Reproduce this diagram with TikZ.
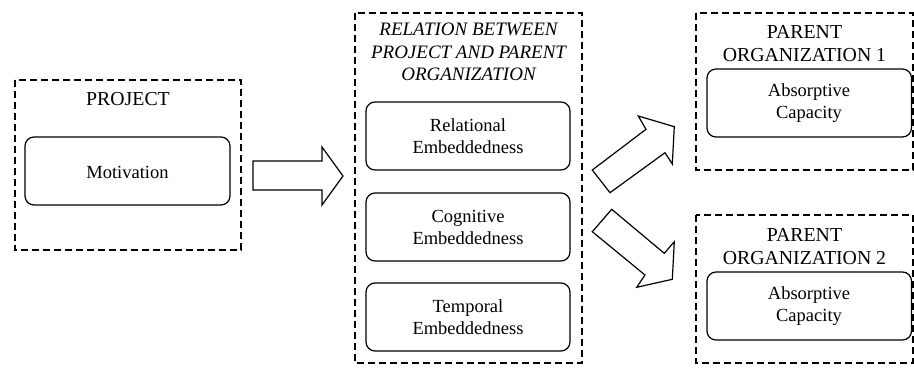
\documentclass[tikz,border=0pt]{standalone}
\usepackage{fontspec}
\setmainfont{Liberation Serif}
\usetikzlibrary{positioning}
\begin{document}
\begin{tikzpicture}[x=1pt,y=-1pt,
  group/.style={draw, dash pattern=on 7pt off 4pt, line width=1.5pt},
  item/.style={draw, rounded corners=9pt, line width=1.2pt},
  head/.style={font=\fontsize{19.8}{22.5}\selectfont, align=center, inner sep=0pt},
  itemtext/.style={font=\fontsize{18.5}{22}\selectfont, align=center, inner sep=0pt},
  blockarrow/.style={draw, line width=1.2pt, fill=white, line join=miter}]
\useasboundingbox (0,0) rectangle (914,376);

% Project
\draw[group] (15,80) rectangle (241,250);
\node[head] (projT) at (128,99) {PROJECT};
\draw[item] (25,137) rectangle (230,205);
\node[itemtext] (mot) at (127.5,172) {Motivation};

% Relation
\draw[group] (355,13) rectangle (582,363);
\node[head, font=\fontsize{19}{22.5}\selectfont\itshape] (relT) at (468.5,52) {RELATION BETWEEN\\PROJECT AND PARENT\\ORGANIZATION};
\draw[item] (366,102) rectangle (570,170);
\node[itemtext] (rel) at (468,136) {Relational\\Embeddedness};
\draw[item] (366,193) rectangle (570,261);
\node[itemtext] (cog) at (468,227) {Cognitive\\Embeddedness};
\draw[item] (366,283) rectangle (570,351);
\node[itemtext] (tem) at (468,317) {Temporal\\Embeddedness};

% Parent 1
\draw[group] (696,13) rectangle (913,170);
\node[head] (p1T) at (804.5,43.5) {PARENT\\ORGANIZATION 1};
\draw[item] (707,69) rectangle (911.5,137);
\node[itemtext] (ac1) at (809,103) {Absorptive\\Capacity};

% Parent 2
\draw[group] (696,215) rectangle (913,363);
\node[head] (p2T) at (804.5,246.5) {PARENT\\ORGANIZATION 2};
\draw[item] (707,272) rectangle (911.5,340);
\node[itemtext] (ac2) at (809,306) {Absorptive\\Capacity};

% Block arrows
\draw[blockarrow] (253,161) -- (322,161) -- (322,147) -- (343,176) -- (322,205) -- (322,190) -- (253,190) -- cycle;
\draw[blockarrow] (592.3,170) -- (646,129.3) -- (638.3,116) -- (674.3,126.7) -- (672.3,164) -- (665,152.7) -- (610,192.7) -- cycle;
\draw[blockarrow] (611.7,209.3) -- (664.3,253.3) -- (674.3,241.7) -- (672.3,279.3) -- (636.7,287.3) -- (645,275) -- (592.3,231.7) -- cycle;
\end{tikzpicture}
\end{document}
